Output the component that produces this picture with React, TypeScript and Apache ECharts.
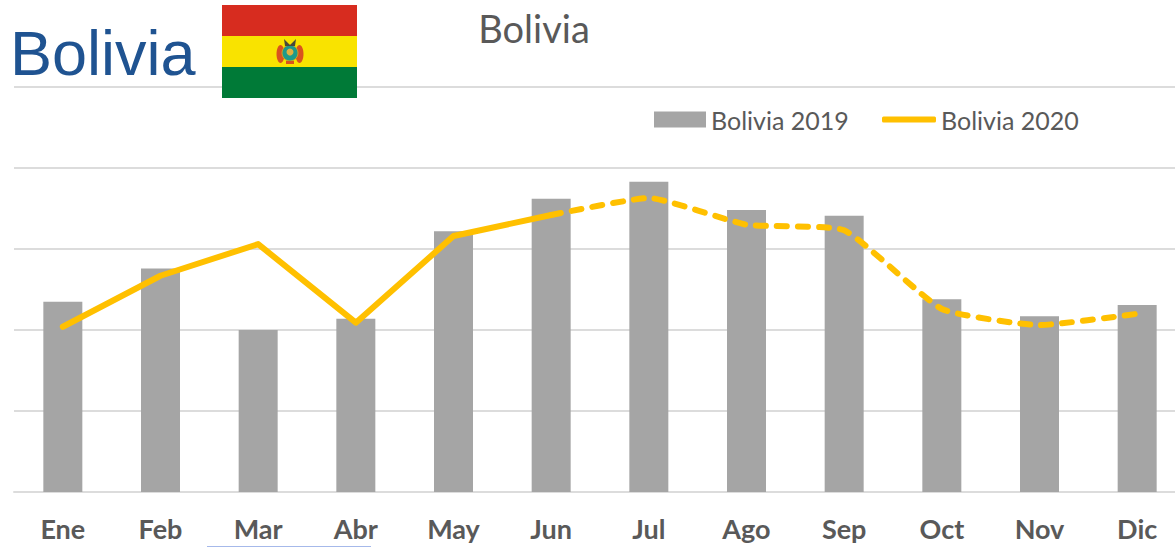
import React, { useEffect, useRef } from "react";
import * as echarts from "echarts";

const months = ["Ene", "Feb", "Mar", "Abr", "May", "Jun", "Jul", "Ago", "Sep", "Oct", "Nov", "Dic"];
const bolivia2019 = [235, 276, 200, 214, 322, 362, 383, 348, 341, 238, 217, 231];
const bolivia2020Solid = [204, 267, 306, 209, 316, 342, null, null, null, null, null, null];
const bolivia2020Dashed = [null, null, null, null, null, 342, 363, 330, 323, 226, 206, 220];
const headerText = "Bolivia";
const chartTitle = "Bolivia";
const NAME_2019 = "Bolivia 2019";
const NAME_2020 = "Bolivia 2020";

const GREY_TEXT = "#595959";
const GRID = "#dcdcdc";
const FONT = "Lato, Carlito, sans-serif";

export default function App() {
  const ref = useRef<HTMLDivElement>(null);
  useEffect(() => {
    const chart = echarts.init(ref.current!, undefined, { renderer: "svg" });
    const legendText = { color: GREY_TEXT, fontFamily: FONT, fontSize: 25 };
    chart.setOption({
      animation: false,
      backgroundColor: "#ffffff",
      grid: { left: 14, top: 168, width: 1172, height: 324, containLabel: false },
      legend: [
        {
          data: [{ name: NAME_2019, icon: "rect" }],
          left: 654, top: 107, itemWidth: 52, itemHeight: 16, padding: 0,
          textStyle: legendText,
        },
        {
          data: [{ name: NAME_2020, icon: "roundRect" }],
          left: 882, top: 107, itemWidth: 54, itemHeight: 6, padding: 0,
          textStyle: legendText,
        },
      ],
      xAxis: {
        type: "category",
        data: months,
        axisTick: { show: false },
        axisLine: { show: true, lineStyle: { color: GRID, width: 2 } },
        axisLabel: {
          color: GREY_TEXT, fontFamily: FONT, fontWeight: "bold", fontSize: 27, margin: 23,
          interval: 0,
        },
      },
      yAxis: {
        type: "value",
        min: 0,
        max: 400,
        interval: 100,
        axisLabel: { show: false },
        axisLine: { show: false },
        axisTick: { show: false },
        splitLine: { lineStyle: { color: GRID, width: 2 } },
      },
      series: [
        {
          name: NAME_2019, type: "bar", data: bolivia2019, barWidth: 39,
          itemStyle: { color: "#a5a5a5" },
        },
        {
          name: NAME_2020, type: "line", data: bolivia2020Solid, showSymbol: false, symbol: "none",
          itemStyle: { color: "#ffc000" },
          lineStyle: { color: "#ffc000", width: 6, cap: "round", join: "round" },
        },
        {
          name: NAME_2020, type: "line", data: bolivia2020Dashed, showSymbol: false, symbol: "none",
          smooth: 0.15,
          itemStyle: { color: "#ffc000" },
          lineStyle: { color: "#ffc000", width: 6, type: [10, 11], cap: "round", join: "round" },
        },
      ],
      graphic: [
        { type: "line", shape: { x1: 14, y1: 87, x2: 1175, y2: 87 }, style: { stroke: GRID, lineWidth: 2 }, z: 1 },
        { type: "line", shape: { x1: 207, y1: 546.5, x2: 371, y2: 546.5 }, style: { stroke: "#a6b9ea", lineWidth: 1 }, z: 1 },
        { type: "text", x: 10, y: 21, z: 5, style: { text: headerText, fill: "#1f5391", fontFamily: "Liberation Sans, Arial, sans-serif", fontSize: 63 } },
        { type: "text", x: 534, y: 28, z: 5, style: { text: chartTitle, fill: GREY_TEXT, fontFamily: FONT, fontSize: 38, align: "center", verticalAlign: "middle" } },
        { type: "rect", z: 6, shape: { x: 222, y: 5, width: 135, height: 31 }, style: { fill: "#d72c1f" } },
        { type: "rect", z: 6, shape: { x: 222, y: 36, width: 135, height: 31 }, style: { fill: "#f9e300" } },
        { type: "rect", z: 6, shape: { x: 222, y: 67, width: 135, height: 31 }, style: { fill: "#007a37" } },
        { type: "ellipse", z: 7, shape: { cx: 280.5, cy: 54, rx: 4, ry: 9 }, style: { fill: "#d9531e" } },
        { type: "ellipse", z: 7, shape: { cx: 299.5, cy: 54, rx: 4, ry: 9 }, style: { fill: "#d9531e" } },
        { type: "circle", z: 8, shape: { cx: 290, cy: 53, r: 8 }, style: { fill: "#1f9a8a", stroke: "#c9a227", lineWidth: 1 } },
        { type: "circle", z: 9, shape: { cx: 290, cy: 52, r: 3.5 }, style: { fill: "#e0b040" } },
        { type: "polygon", z: 8, shape: { points: [[284, 39], [290, 45], [296, 39], [295, 46], [285, 46]] }, style: { fill: "#4a4a3a" } },
        { type: "rect", z: 8, shape: { x: 286, y: 61, width: 8, height: 3 }, style: { fill: "#d9531e" } },
      ],
    });
    return () => chart.dispose();
  }, []);
  return (
    <div style={{ position: "absolute", left: 0, top: 0, width: 1175, height: 547, overflow: "hidden" }}>
      <div ref={ref} style={{ width: 1190, height: 547 }} />
    </div>
  );
}
